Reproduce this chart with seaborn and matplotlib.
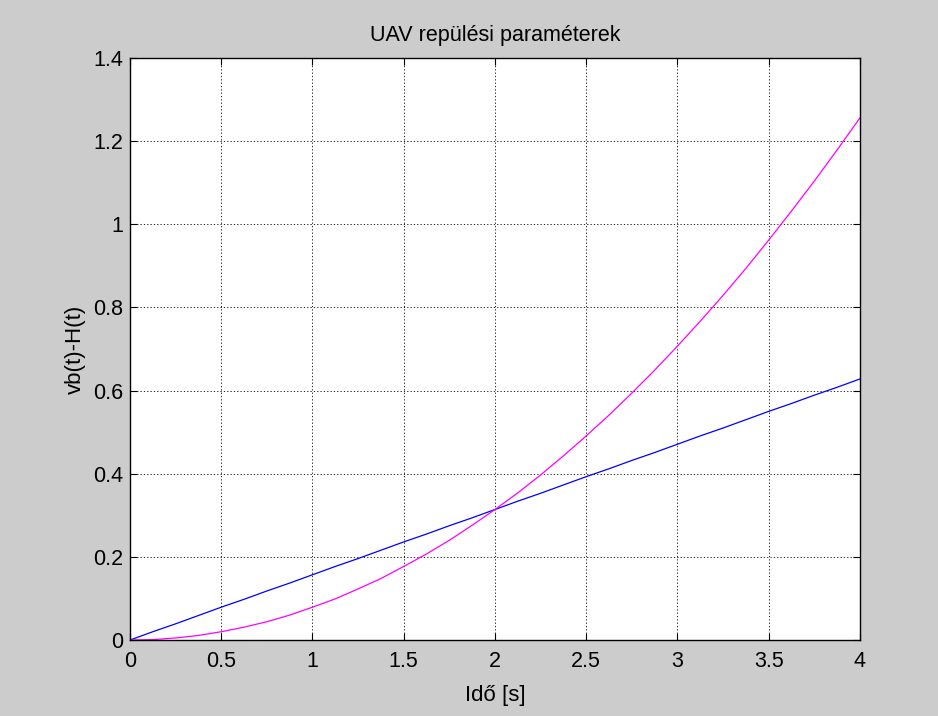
import matplotlib
matplotlib.use("Agg")
import matplotlib.pyplot as plt
import seaborn as sns
import pandas as pd

# Data
t = [0, 0.125, 0.25, 0.375, 0.5, 0.625, 0.75, 0.875, 1.0, 1.125, 1.25, 1.375, 1.5,
     1.625, 1.75, 1.875, 2.0, 2.125, 2.25, 2.375, 2.5, 2.625, 2.75, 2.875, 3.0,
     3.125, 3.25, 3.375, 3.5, 3.625, 3.75, 3.875, 4.0]
vb = [0, 0.020, 0.039, 0.059, 0.079, 0.098, 0.118, 0.137, 0.157, 0.177, 0.196,
      0.216, 0.236, 0.255, 0.275, 0.294, 0.314, 0.334, 0.353, 0.373, 0.393,
      0.412, 0.432, 0.451, 0.471, 0.491, 0.510, 0.530, 0.550, 0.569, 0.589,
      0.608, 0.628]
H = [0, 0.001, 0.005, 0.011, 0.020, 0.031, 0.044, 0.060, 0.079, 0.099, 0.123,
     0.148, 0.177, 0.207, 0.240, 0.276, 0.314, 0.354, 0.397, 0.443, 0.491,
     0.541, 0.594, 0.649, 0.707, 0.767, 0.829, 0.894, 0.962, 1.032, 1.104,
     1.179, 1.256]
xticks = [0, 0.5, 1, 1.5, 2, 2.5, 3, 3.5, 4]
xticklabels = ["0", "0.5", "1", "1.5", "2", "2.5", "3", "3.5", "4"]
yticks = [0, 0.2, 0.4, 0.6, 0.8, 1.0, 1.2, 1.4]
yticklabels = ["0", "0.2", "0.4", "0.6", "0.8", "1", "1.2", "1.4"]

sns.set_theme(style="white")
plt.rcParams['font.family'] = ['Liberation Sans', 'DejaVu Sans']

df = pd.DataFrame({"t": t, "vb": vb, "H": H})

fig = plt.figure(figsize=(9.38, 7.16), dpi=100, facecolor="#cccccc")
ax = fig.add_axes([0.1386, 0.1061, 0.9168 - 0.1386, 0.919 - 0.1061])
ax.set_facecolor("white")

sns.lineplot(data=df, x="t", y="vb", ax=ax, color=(0, 0, 1), linewidth=0.9)
sns.lineplot(data=df, x="t", y="H", ax=ax, color=(1, 0, 1), linewidth=0.9)

ax.set_xlim(0, 4)
ax.set_ylim(0, 1.4)
ax.set_xticks(xticks)
ax.set_xticklabels(xticklabels)
ax.set_yticks(yticks)
ax.set_yticklabels(yticklabels)
ax.grid(True, linestyle=(0, (1.5, 2.5)), color="black", linewidth=0.6)
for s in ax.spines.values():
    s.set_visible(True)
    s.set_color("black")
    s.set_linewidth(1.0)
ax.tick_params(direction="in", length=5, width=0.8, colors="black",
               labelsize=15.5, top=True, right=True, bottom=True, left=True,
               labelcolor="black")
ax.tick_params(axis="x", pad=8)
ax.tick_params(axis="y", pad=5)
ax.set_xlabel("Idő [s]", fontsize=16, color="black", labelpad=9)
ax.set_ylabel("vb(t)-H(t)", fontsize=16, color="black", labelpad=5)
ax.set_title("UAV repülési paraméterek", fontsize=15.5, color="black", pad=12)

fig.savefig("out.png", dpi=100, facecolor=fig.get_facecolor())
